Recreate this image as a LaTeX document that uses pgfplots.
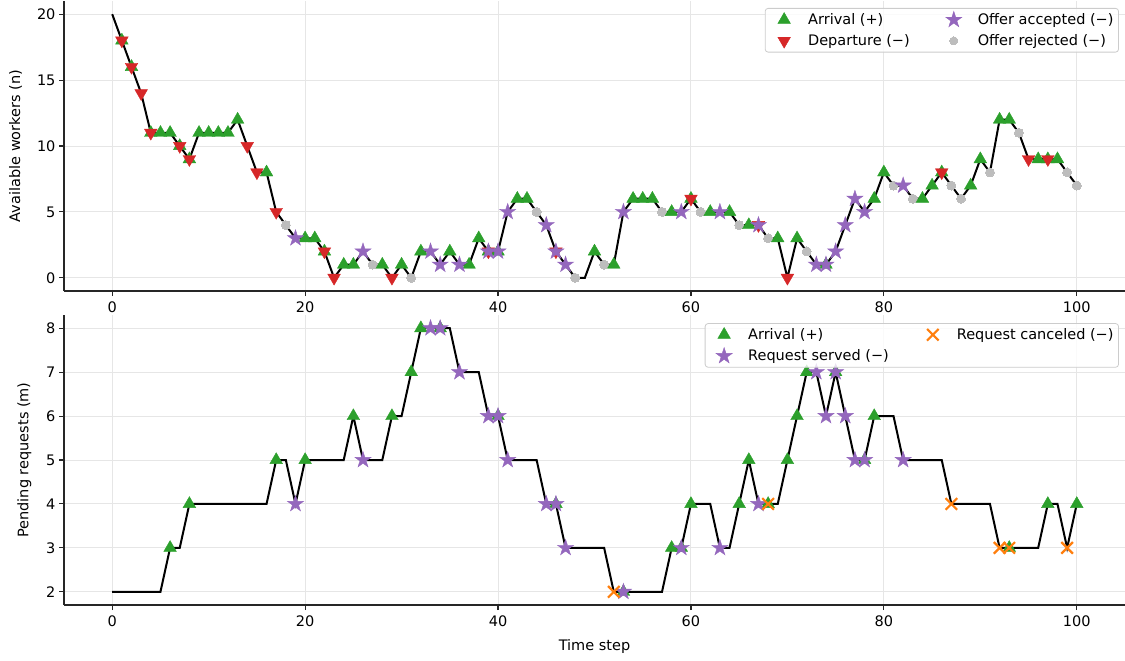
\documentclass[border=0pt]{standalone}
\usepackage{fontspec}
\setmainfont{DejaVu Sans}
\usepackage{pgfplots}
\pgfplotsset{compat=1.18}
\definecolor{cgreen}{HTML}{2CA02C}
\definecolor{cred}{HTML}{D62728}
\definecolor{cpurple}{HTML}{9467BD}
\definecolor{corange}{HTML}{FF7F0E}
\definecolor{cgray}{HTML}{BDBDBD}
\definecolor{cgrid}{HTML}{E6E6E6}
\pgfdeclareplotmark{fstar}{%
  \pgfpathmoveto{\pgfpointpolar{90}{\pgfplotmarksize}}%
  \pgfpathlineto{\pgfpointpolar{126}{0.382\pgfplotmarksize}}%
  \pgfpathlineto{\pgfpointpolar{162}{\pgfplotmarksize}}%
  \pgfpathlineto{\pgfpointpolar{198}{0.382\pgfplotmarksize}}%
  \pgfpathlineto{\pgfpointpolar{234}{\pgfplotmarksize}}%
  \pgfpathlineto{\pgfpointpolar{270}{0.382\pgfplotmarksize}}%
  \pgfpathlineto{\pgfpointpolar{306}{\pgfplotmarksize}}%
  \pgfpathlineto{\pgfpointpolar{342}{0.382\pgfplotmarksize}}%
  \pgfpathlineto{\pgfpointpolar{18}{\pgfplotmarksize}}%
  \pgfpathlineto{\pgfpointpolar{54}{0.382\pgfplotmarksize}}%
  \pgfpathclose
  \pgfusepathqfillstroke
}
\pgfplotsset{
  base/.style={
    scale only axis, width=1061pt, height=290pt,
    xmin=-5, xmax=105,
    axis x line*=bottom, axis y line*=left,
    axis line style={black!85, line width=1.1pt},
    tick style={black!85, line width=1.1pt},
    tick align=outside, major tick length=5pt,
    xtick={0,20,40,60,80,100},
    grid=major, major grid style={cgrid, line width=1pt},
    tick label style={font=\fontsize{14.5}{17}\selectfont},
    xticklabel style={yshift=-2pt},
    label style={font=\fontsize{14.5}{17}\selectfont},
    ylabel shift=8pt, xlabel shift=6pt,
    /pgf/number format/assume math mode=true,
    legend cell align=left,
    legend columns=2,
    legend style={font=\fontsize{14.5}{17}\selectfont, draw=black!20, line width=0.8pt,
      rounded corners=3pt, fill=white, fill opacity=0.8, text opacity=1,
      inner sep=3pt, row sep=4.5pt,
      nodes={inner sep=2pt}},
    /tikz/every even column/.append style={column sep=26pt},
    legend image code/.code={\path[draw=none,fill=none] (-16pt,-6pt) rectangle (22pt,6pt); \draw[fill opacity=1, draw opacity=1, ##1] plot coordinates {(0pt,0pt)};},
  },
  arr/.style={only marks, mark=triangle*, mark size=7.3pt, mark options={draw=cgreen, fill=cgreen, line width=0.4pt, fill opacity=1, draw opacity=1}},
  dep/.style={only marks, mark=triangle*, mark size=7.3pt, mark options={draw=cred, fill=cred, rotate=180, line width=0.4pt, fill opacity=1, draw opacity=1}},
  acc/.style={only marks, mark=fstar, mark size=8.5pt, mark options={draw=cpurple, fill=cpurple, line width=0.4pt, fill opacity=1, draw opacity=1}},
  rej/.style={only marks, mark=*, mark size=4.5pt, mark options={draw=cgray, fill=cgray, line width=0pt, fill opacity=1, draw opacity=1}},
  can/.style={only marks, mark=x, mark size=8.2pt, mark options={draw=corange, line width=2.2pt, draw opacity=1}},
}
\begin{document}
\begin{tikzpicture}
\begin{axis}[base, at={(64pt,-291pt)}, anchor=south west,
  ymin=-1, ymax=21, ytick={0,5,10,15,20}, xticklabel={},
  ylabel={Available workers (n)},
  legend style={at={(rel axis cs:0.9943,0.976)}, anchor=north east}]
\addplot[rej, forget plot] coordinates {(18,4)(27,1)(31,0)(44,5)(48,0)(51,1)(57,5)(61,5)(65,4)(68,3)(72,2)(81,7)(83,6)(87,7)(88,6)(91,8)(94,11)(99,8)(100,7)};
\addplot[black, line width=2pt, forget plot] coordinates {(0,20)(1,18)(2,16)(3,14)(4,11)(5,11)(6,11)(7,10)(8,9)(9,11)(10,11)(11,11)(12,11)(13,12)(14,10)(15,8)(16,8)(17,5)(18,4)(19,3)(20,3)(21,3)(22,2)(23,0)(24,1)(25,1)(26,2)(27,1)(28,1)(29,0)(30,1)(31,0)(32,2)(33,2)(34,1)(35,2)(36,1)(37,1)(38,3)(39,2)(40,2)(41,5)(42,6)(43,6)(44,5)(45,4)(46,2)(47,1)(48,0)(49,0)(50,2)(51,1)(52,1)(53,5)(54,6)(55,6)(56,6)(57,5)(58,5)(59,5)(60,6)(61,5)(62,5)(63,5)(64,5)(65,4)(66,4)(67,4)(68,3)(69,3)(70,0)(71,3)(72,2)(73,1)(74,1)(75,2)(76,4)(77,6)(78,5)(79,6)(80,8)(81,7)(82,7)(83,6)(84,6)(85,7)(86,8)(87,7)(88,6)(89,7)(90,9)(91,8)(92,12)(93,12)(94,11)(95,9)(96,9)(97,9)(98,9)(99,8)(100,7)};
\addplot[arr, forget plot] coordinates {(1,18)(2,16)(4,11)(5,11)(6,11)(7,10)(8,9)(9,11)(10,11)(11,11)(12,11)(13,12)(16,8)(20,3)(21,3)(22,2)(24,1)(25,1)(28,1)(30,1)(32,2)(35,2)(37,1)(38,3)(39,2)(40,2)(42,6)(43,6)(50,2)(52,1)(54,6)(55,6)(56,6)(58,5)(60,6)(62,5)(64,5)(66,4)(69,3)(71,3)(74,1)(79,6)(80,8)(84,6)(85,7)(86,8)(89,7)(90,9)(92,12)(93,12)(96,9)(97,9)(98,9)};
\addplot[dep, forget plot] coordinates {(1,18)(2,16)(3,14)(4,11)(7,10)(8,9)(14,10)(15,8)(17,5)(22,2)(23,0)(29,0)(39,2)(46,2)(60,6)(67,4)(70,0)(86,8)(95,9)(97,9)};
\addplot[acc, forget plot] coordinates {(19,3)(26,2)(33,2)(34,1)(36,1)(39,2)(40,2)(41,5)(45,4)(46,2)(47,1)(53,5)(59,5)(63,5)(67,4)(73,1)(74,1)(75,2)(76,4)(77,6)(78,5)(82,7)};
\addlegendimage{arr}\addlegendentry{Arrival (+)}
\addlegendimage{acc}\addlegendentry{Offer accepted (−)}
\addlegendimage{dep}\addlegendentry{Departure (−)}
\addlegendimage{rej, mark size=4pt}\addlegendentry{Offer rejected (−)}
\end{axis}
\begin{axis}[base, at={(64pt,-605pt)}, anchor=south west,
  ymin=1.7, ymax=8.3, ytick={2,3,4,5,6,7,8},
  xlabel={Time step}, ylabel={Pending requests (m)},
  legend style={at={(rel axis cs:0.9943,0.972)}, anchor=north east}]
\addplot[black, line width=2pt, forget plot] coordinates {(0,2)(1,2)(2,2)(3,2)(4,2)(5,2)(6,3)(7,3)(8,4)(9,4)(10,4)(11,4)(12,4)(13,4)(14,4)(15,4)(16,4)(17,5)(18,5)(19,4)(20,5)(21,5)(22,5)(23,5)(24,5)(25,6)(26,5)(27,5)(28,5)(29,6)(30,6)(31,7)(32,8)(33,8)(34,8)(35,8)(36,7)(37,7)(38,7)(39,6)(40,6)(41,5)(42,5)(43,5)(44,5)(45,4)(46,4)(47,3)(48,3)(49,3)(50,3)(51,3)(52,2)(53,2)(54,2)(55,2)(56,2)(57,2)(58,3)(59,3)(60,4)(61,4)(62,4)(63,3)(64,3)(65,4)(66,5)(67,4)(68,4)(69,4)(70,5)(71,6)(72,7)(73,7)(74,6)(75,7)(76,6)(77,5)(78,5)(79,6)(80,6)(81,6)(82,5)(83,5)(84,5)(85,5)(86,5)(87,4)(88,4)(89,4)(90,4)(91,4)(92,3)(93,3)(94,3)(95,3)(96,3)(97,4)(98,4)(99,3)(100,4)};
\addplot[arr, forget plot] coordinates {(6,3)(8,4)(17,5)(20,5)(25,6)(29,6)(31,7)(32,8)(34,8)(40,6)(46,4)(53,2)(58,3)(59,3)(60,4)(65,4)(66,5)(68,4)(70,5)(71,6)(72,7)(75,7)(78,5)(79,6)(93,3)(97,4)(100,4)};
\addplot[acc, forget plot] coordinates {(19,4)(26,5)(33,8)(34,8)(36,7)(39,6)(40,6)(41,5)(45,4)(46,4)(47,3)(53,2)(59,3)(63,3)(67,4)(73,7)(74,6)(75,7)(76,6)(77,5)(78,5)(82,5)};
\addplot[can, forget plot] coordinates {(52,2)(68,4)(87,4)(92,3)(93,3)(99,3)};
\addlegendimage{arr}\addlegendentry{Arrival (+)}
\addlegendimage{can}\addlegendentry{Request canceled (−)}
\addlegendimage{acc}\addlegendentry{Request served (−)}
\end{axis}
\pgfresetboundingbox
\path[use as bounding box] (0,0) rectangle (1125pt,-661pt);
\end{tikzpicture}
\end{document}
